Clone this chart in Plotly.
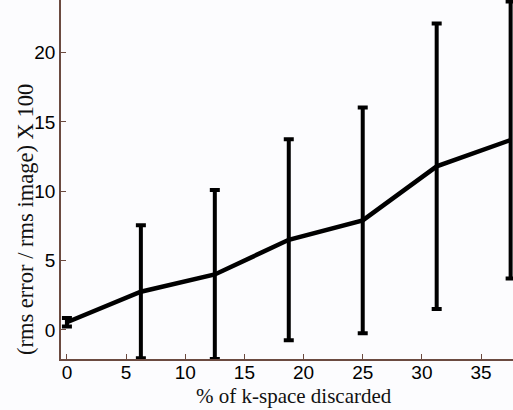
import plotly.graph_objects as go

pct_discarded = [0, 6.25, 12.5, 18.75, 25, 31.25, 37.5]
rms_error_x100 = [0.55, 2.75, 4.0, 6.5, 7.9, 11.8, 13.7]
error_bar = [0.3, 4.8, 6.1, 7.25, 8.15, 10.3, 10.0]
x_ticks = [0, 5, 10, 15, 20, 25, 30, 35]
y_ticks = [0, 5, 10, 15, 20]

axis_color = "#6b4a40"
bg = "#fcfcfe"

fig = go.Figure()
fig.add_trace(go.Scatter(
    x=pct_discarded, y=rms_error_x100, mode="lines",
    line=dict(color="black", width=4.5),
    error_y=dict(type="data", array=error_bar, visible=True,
                 color="black", thickness=4, width=5),
    showlegend=False,
))

fig.update_layout(
    width=513, height=410,
    margin=dict(l=61, r=0, t=0, b=51),
    paper_bgcolor=bg, plot_bgcolor=bg,
    font=dict(family="Liberation Sans, Arial", size=19, color="#000"),
)
fig.update_xaxes(
    range=[-0.5, 37.7], tickvals=x_ticks, ticks="inside", ticklen=5,
    tickcolor=axis_color, showline=True, linecolor=axis_color, linewidth=1.5,
    showgrid=False, zeroline=False, mirror=False, ticklabelstandoff=-5,
)
fig.update_yaxes(
    range=[-2.1, 23.8], tickvals=y_ticks, ticks="inside", ticklen=5,
    tickcolor=axis_color, showline=True, linecolor=axis_color, linewidth=1.5,
    showgrid=False, zeroline=False, mirror=False,
)
fig.add_annotation(
    text="% of k-space discarded", xref="paper", yref="paper",
    x=(294 - 61) / 452, y=-(396 - 359) / 359, xanchor="center", yanchor="middle",
    showarrow=False, font=dict(family="Liberation Serif, Times New Roman", size=21, color="#111"),
)
fig.add_annotation(
    text="(rms error / rms image) X 100", xref="paper", yref="paper",
    x=-(61 - 25) / 452, y=(359 - 220) / 359, xanchor="center", yanchor="middle",
    textangle=-90, showarrow=False,
    font=dict(family="Liberation Serif, Times New Roman", size=22.5, color="#111"),
)

fig.write_html("out.html")
